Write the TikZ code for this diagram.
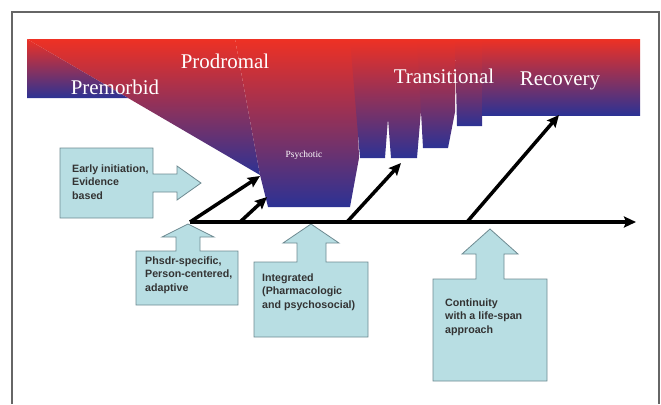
\documentclass[tikz,border=0pt]{standalone}
\usepackage{fontspec}
\setmainfont{Liberation Serif}
\newfontfamily\arialfont{Liberation Sans}
\usetikzlibrary{arrows.meta, calc}
\definecolor{rojofase}{HTML}{EE3124}
\definecolor{azulfase}{HTML}{2C3294}
\definecolor{celeste}{HTML}{B8DEE3}
\definecolor{bordecaja}{HTML}{6E8A91}
\definecolor{grisletra}{HTML}{333333}
\definecolor{marco}{HTML}{666666}
\tikzset{
  fase/.style={top color=rojofase, bottom color=azulfase},
  nombrefase/.style={text=white, font=\fontsize{21}{24}\selectfont, inner sep=0pt, anchor=base},
  caja/.style={draw=bordecaja, fill=celeste, line width=0.8bp, line join=miter},
  textocaja/.style={text=grisletra, font=\arialfont\bfseries\fontsize{10.7}{13.6}\selectfont,
                    align=left, anchor=west, inner sep=0pt},
  flecha/.style={line width=3.5bp, -{Stealth[length=12bp, width=11bp, inset=2bp]}, color=black}
}
\begin{document}
\begin{tikzpicture}[x=1bp, y=-1bp]
  \useasboundingbox (0,0) rectangle (661,404);
  % marco
  \draw [marco, line width=1.5bp] (12,404) -- (12,12) -- (659,12) -- (659,404);

  % fases
  \shade [fase] (27,39) -- (235,39) -- (260,175) -- cycle;
  \shade [fase] (27,39) -- (128,98) -- (27,98) -- cycle;
  \shade [fase] (235,39) -- (355,39) -- (359,158) -- (350,207) -- (268,207) -- (260,175) -- cycle;
  \shade [fase] (350,39) -- (394,39) -- (385,158) -- (360,158) -- cycle;
  \shade [fase] (382,39) -- (427,39) -- (417,158) -- (391,158) -- cycle;
  \shade [fase] (417,39) -- (456,39) -- (455,112) -- (448,148) -- (423,148) -- cycle;
  \shade [fase] (455,39) -- (483,39) -- (482,126) -- (457,126) -- cycle;
  \shade [fase] (482,39) -- (640,39) -- (640,115) -- (482,115) -- cycle;

  \node (premorbid) [nombrefase] at (115,94) {Premorbid};
  \node (prodromal) [nombrefase] at (225,68) {Prodromal};
  \node (transitional) [nombrefase] at (444,83) {Transitional};
  \node (recovery) [nombrefase] at (560,85) {Recovery};
  \node (psychotic) [nombrefase, font=\fontsize{9.5}{11}\selectfont] at (304,157) {Psychotic};

  % cajas
  \draw [caja] (60,148) -- (153,148) -- (153,174) -- (177,174) -- (177,166) -- (201,183)
    -- (177,200) -- (177,192) -- (153,192) -- (153,218) -- (60,218) -- cycle;
  \draw [caja] (136,251) -- (176,251) -- (176,237) -- (162,237) -- (188,224) -- (214,237)
    -- (200,237) -- (200,251) -- (238,251) -- (238,305) -- (136,305) -- cycle;
  \draw [caja] (254,262) -- (297,262) -- (297,243) -- (283,243) -- (311,224) -- (339,243)
    -- (326,243) -- (326,262) -- (368,262) -- (368,337) -- (254,337) -- cycle;
  \draw [caja] (433,279) -- (476,279) -- (476,254) -- (462,254) -- (490,229) -- (518,254)
    -- (504,254) -- (504,279) -- (547,279) -- (547,381) -- (433,381) -- cycle;

  \node (temprano) [textocaja] at (72,182) {Early initiation,\\Evidence\\based};
  \node (especifico) [textocaja] at (145,275) {Phsdr-specific,\\Person-centered,\\adaptive};
  \node (integrado) [textocaja] at (262,292) {Integrated\\(Pharmacologic\\and psychosocial)};
  \node (continuidad) [textocaja] at (445,317) {Continuity\\with a life-span\\approach};

  % flechas
  \coordinate (inicio) at (190,222);
  \coordinate (fin) at (636,222);
  \coordinate (rama2) at (240,222);
  \coordinate (rama3) at (347,222);
  \coordinate (rama4) at (467,222);
  \coordinate (psic1) at (260,176);
  \coordinate (psic2) at (267,197);
  \coordinate (trans) at (401,163);
  \coordinate (recup) at (559,115);
  \draw [flecha] (inicio) -- (fin);
  \draw [flecha] (inicio) -- (psic1);
  \draw [flecha] (rama2) -- (psic2);
  \draw [flecha] (rama3) -- (trans);
  \draw [flecha] (rama4) -- (recup);
\end{tikzpicture}
\end{document}
